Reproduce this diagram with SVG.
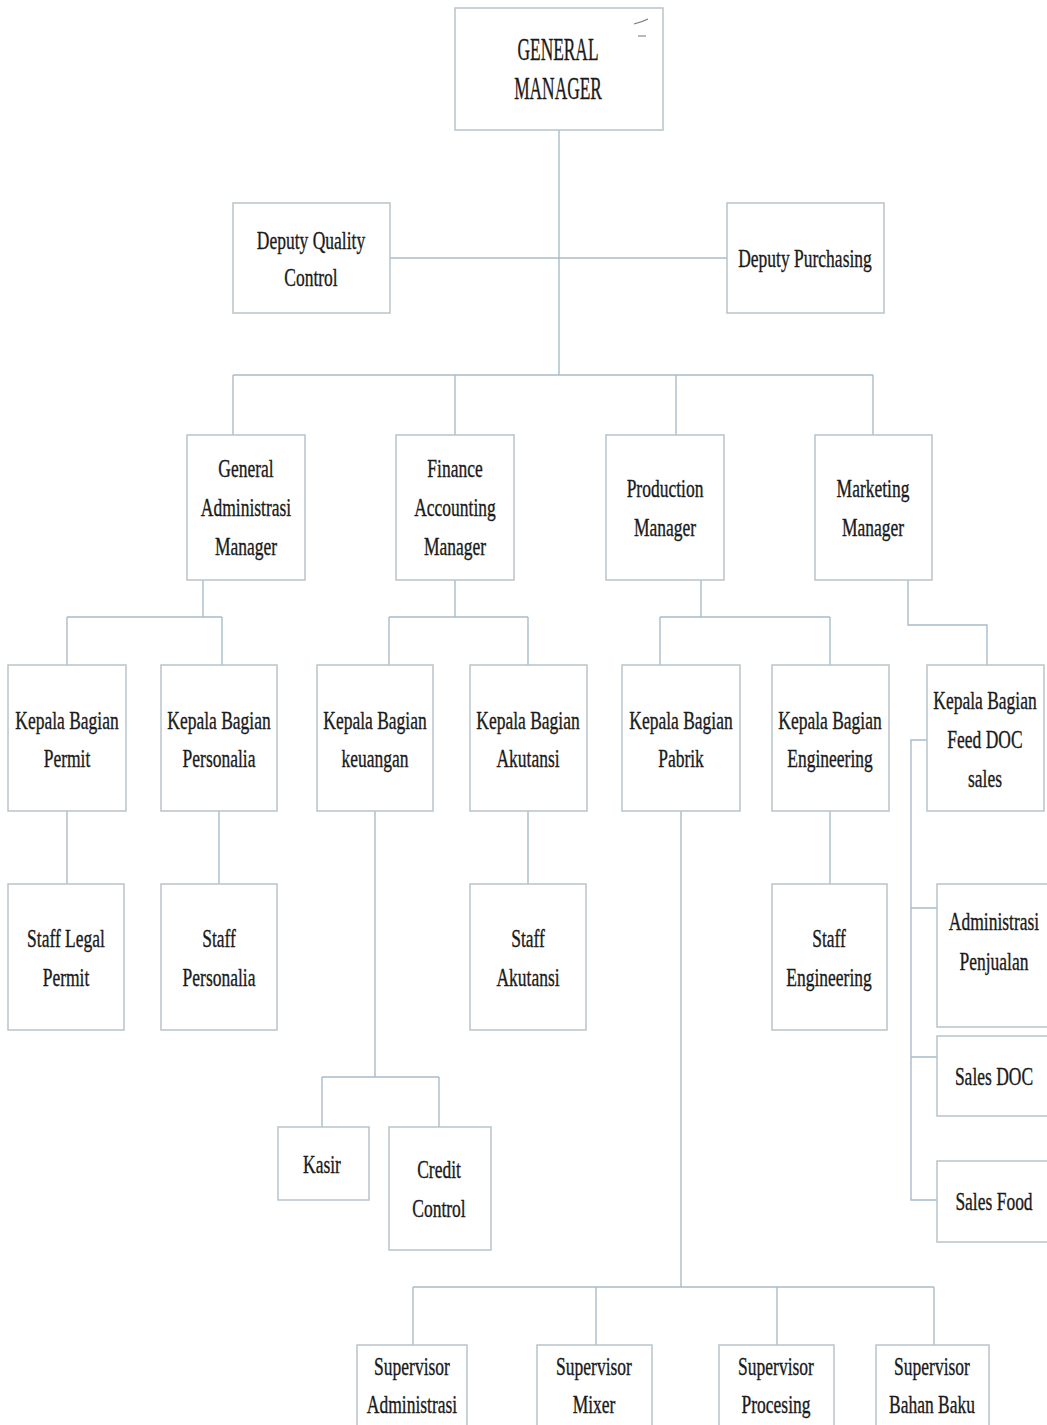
<svg xmlns="http://www.w3.org/2000/svg" width="1047" height="1425" viewBox="0 0 1047 1425">
<style>
.box{fill:#ffffff;stroke:#b8c3ca;stroke-width:1.5}
.t{font-family:"Liberation Serif","Times New Roman",serif;font-size:25px;fill:#1a1a1a;stroke:#1a1a1a;stroke-width:0.35;text-anchor:middle}
.big{font-size:31px}
.c{fill:none;stroke:#a9bccb;stroke-width:1.4}
</style>
<rect width="1047" height="1425" fill="#ffffff"/>
<g id="connectors" class="c">
<path class="c" d="M559,130 V375"/>
<path class="c" d="M390,258 H727"/>
<path class="c" d="M233,375 H873 M233,375 V435 M455,375 V435 M676,375 V435 M873,375 V435"/>
<path class="c" d="M203,580 V617 M67,617 H222 M67,617 V665 M222,617 V665"/>
<path class="c" d="M455,580 V617 M389,617 H528 M389,617 V665 M528,617 V665"/>
<path class="c" d="M701,580 V617 M660,617 H830 M660,617 V665 M830,617 V665"/>
<path class="c" d="M908,580 V625 H987 V665"/>
<path class="c" d="M67,811 V884 M219,811 V884 M528,811 V884 M830,811 V884"/>
<path class="c" d="M375,811 V1077 M322,1077 H439 M322,1077 V1127 M439,1077 V1127"/>
<path class="c" d="M681,811 V1287 M413,1287 H934 M413,1287 V1345 M596,1287 V1345 M777,1287 V1345 M934,1287 V1345"/>
<path class="c" d="M927,740 H911 V1200 H937 M911,908 H937 M911,1057 H937"/>
</g>
<g id="gm"><rect class="box" x="455" y="8" width="208" height="122"/>
<text class="t big" transform="translate(558,60) scale(0.56,1)">GENERAL</text>
<text class="t big" transform="translate(558,99) scale(0.56,1)">MANAGER</text>
<path d="M634,24 Q642,22 648,19 M638,36 H646" stroke="#777" stroke-width="1.2" fill="none"/></g>
<g id="dqc"><rect class="box" x="233" y="203" width="157" height="110"/>
<text class="t" transform="translate(311,249) scale(0.7,1)">Deputy Quality</text>
<text class="t" transform="translate(311,286) scale(0.7,1)">Control</text></g>
<g id="dp"><rect class="box" x="727" y="203" width="157" height="110"/>
<text class="t" transform="translate(805,267) scale(0.7,1)">Deputy Purchasing</text></g>
<g id="gam"><rect class="box" x="187" y="435" width="118" height="145"/>
<text class="t" transform="translate(246,477) scale(0.7,1)">General</text>
<text class="t" transform="translate(246,516) scale(0.7,1)">Administrasi</text>
<text class="t" transform="translate(246,555) scale(0.7,1)">Manager</text></g>
<g id="fam"><rect class="box" x="396" y="435" width="118" height="145"/>
<text class="t" transform="translate(455,477) scale(0.7,1)">Finance</text>
<text class="t" transform="translate(455,516) scale(0.7,1)">Accounting</text>
<text class="t" transform="translate(455,555) scale(0.7,1)">Manager</text></g>
<g id="pm"><rect class="box" x="606" y="435" width="118" height="145"/>
<text class="t" transform="translate(665,497) scale(0.7,1)">Production</text>
<text class="t" transform="translate(665,536) scale(0.7,1)">Manager</text></g>
<g id="mm"><rect class="box" x="815" y="435" width="117" height="145"/>
<text class="t" transform="translate(873,497) scale(0.7,1)">Marketing</text>
<text class="t" transform="translate(873,536) scale(0.7,1)">Manager</text></g>
<g id="kb-permit"><rect class="box" x="8" y="665" width="118" height="146"/>
<text class="t" transform="translate(67,729) scale(0.7,1)">Kepala Bagian</text>
<text class="t" transform="translate(67,767) scale(0.7,1)">Permit</text></g>
<g id="kb-personalia"><rect class="box" x="161" y="665" width="116" height="146"/>
<text class="t" transform="translate(219,729) scale(0.7,1)">Kepala Bagian</text>
<text class="t" transform="translate(219,767) scale(0.7,1)">Personalia</text></g>
<g id="kb-keuangan"><rect class="box" x="317" y="665" width="116" height="146"/>
<text class="t" transform="translate(375,729) scale(0.7,1)">Kepala Bagian</text>
<text class="t" transform="translate(375,767) scale(0.7,1)">keuangan</text></g>
<g id="kb-akutansi"><rect class="box" x="470" y="665" width="117" height="146"/>
<text class="t" transform="translate(528,729) scale(0.7,1)">Kepala Bagian</text>
<text class="t" transform="translate(528,767) scale(0.7,1)">Akutansi</text></g>
<g id="kb-pabrik"><rect class="box" x="622" y="665" width="118" height="146"/>
<text class="t" transform="translate(681,729) scale(0.7,1)">Kepala Bagian</text>
<text class="t" transform="translate(681,767) scale(0.7,1)">Pabrik</text></g>
<g id="kb-engineering"><rect class="box" x="772" y="665" width="117" height="146"/>
<text class="t" transform="translate(830,729) scale(0.7,1)">Kepala Bagian</text>
<text class="t" transform="translate(830,767) scale(0.7,1)">Engineering</text></g>
<g id="kb-feed"><rect class="box" x="927" y="665" width="117" height="146"/>
<text class="t" transform="translate(985,709) scale(0.7,1)">Kepala Bagian</text>
<text class="t" transform="translate(985,748) scale(0.7,1)">Feed DOC</text>
<text class="t" transform="translate(985,787) scale(0.7,1)">sales</text></g>
<g id="staff-legal"><rect class="box" x="8" y="884" width="116" height="146"/>
<text class="t" transform="translate(66,947) scale(0.7,1)">Staff Legal</text>
<text class="t" transform="translate(66,986) scale(0.7,1)">Permit</text></g>
<g id="staff-personalia"><rect class="box" x="161" y="884" width="116" height="146"/>
<text class="t" transform="translate(219,947) scale(0.7,1)">Staff</text>
<text class="t" transform="translate(219,986) scale(0.7,1)">Personalia</text></g>
<g id="staff-akutansi"><rect class="box" x="470" y="884" width="116" height="146"/>
<text class="t" transform="translate(528,947) scale(0.7,1)">Staff</text>
<text class="t" transform="translate(528,986) scale(0.7,1)">Akutansi</text></g>
<g id="staff-engineering"><rect class="box" x="772" y="884" width="115" height="146"/>
<text class="t" transform="translate(829,947) scale(0.7,1)">Staff</text>
<text class="t" transform="translate(829,986) scale(0.7,1)">Engineering</text></g>
<g id="admin-penjualan"><rect class="box" x="937" y="884" width="115" height="143"/>
<text class="t" transform="translate(994,930) scale(0.7,1)">Administrasi</text>
<text class="t" transform="translate(994,970) scale(0.7,1)">Penjualan</text></g>
<g id="sales-doc"><rect class="box" x="937" y="1036" width="115" height="80"/>
<text class="t" transform="translate(994,1085) scale(0.7,1)">Sales DOC</text></g>
<g id="sales-food"><rect class="box" x="937" y="1161" width="115" height="81"/>
<text class="t" transform="translate(994,1210) scale(0.7,1)">Sales Food</text></g>
<g id="kasir"><rect class="box" x="278" y="1127" width="91" height="73"/>
<text class="t" transform="translate(322,1173) scale(0.7,1)">Kasir</text></g>
<g id="credit-control"><rect class="box" x="389" y="1127" width="102" height="123"/>
<text class="t" transform="translate(439,1178) scale(0.7,1)">Credit</text>
<text class="t" transform="translate(439,1217) scale(0.7,1)">Control</text></g>
<g id="sv-admin"><rect class="box" x="357" y="1345" width="110" height="100"/>
<text class="t" transform="translate(412,1375) scale(0.7,1)">Supervisor</text>
<text class="t" transform="translate(412,1413) scale(0.7,1)">Administrasi</text></g>
<g id="sv-mixer"><rect class="box" x="537" y="1345" width="115" height="100"/>
<text class="t" transform="translate(594,1375) scale(0.7,1)">Supervisor</text>
<text class="t" transform="translate(594,1413) scale(0.7,1)">Mixer</text></g>
<g id="sv-procesing"><rect class="box" x="719" y="1345" width="115" height="100"/>
<text class="t" transform="translate(776,1375) scale(0.7,1)">Supervisor</text>
<text class="t" transform="translate(776,1413) scale(0.7,1)">Procesing</text></g>
<g id="sv-bahan"><rect class="box" x="876" y="1345" width="113" height="100"/>
<text class="t" transform="translate(932,1375) scale(0.7,1)">Supervisor</text>
<text class="t" transform="translate(932,1413) scale(0.7,1)">Bahan Baku</text></g>
</svg>
